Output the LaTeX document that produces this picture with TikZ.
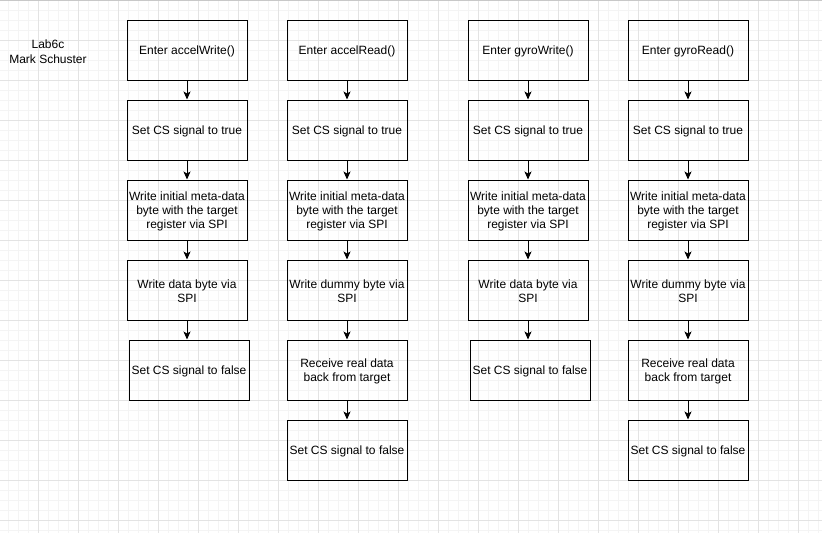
\documentclass[tikz,border=0pt]{standalone}
\usepackage{fontspec}
\setmainfont{Liberation Sans}
\usetikzlibrary{arrows.meta}
\definecolor{gridmajor}{HTML}{E3E3E3}
\definecolor{gridminor}{HTML}{F4F4F4}
\definecolor{bordure}{HTML}{C8C8C8}
\newcommand{\cale}{\rule{0pt}{12pt}}
\begin{document}
\begin{tikzpicture}[x=1pt,y=-1pt,
    etape/.style={draw,line width=1pt,minimum width=120pt,minimum height=60pt,inner sep=1pt,align=center,font=\fontsize{12}{14}\selectfont},
    fleche/.style={-{Stealth[length=8pt,width=7pt,inset=2pt]},line width=1pt}]
    \useasboundingbox (0,0) rectangle (822,533);
    \fill[white] (0,0) rectangle (822,533);
    \foreach \x in {8,18,...,818} \draw[gridminor] (\x,0) -- (\x,533); %petite grille
    \foreach \y in {10,20,...,530} \draw[gridminor] (0,\y) -- (822,\y);
    \foreach \x in {38,78,...,798} \draw[gridmajor] (\x,0) -- (\x,533); %grande grille
    \foreach \y in {40,80,...,520} \draw[gridmajor] (0,\y) -- (822,\y);
    \draw[bordure,line width=2pt] (0,0) -- (822,0);
    \node[align=center,font=\fontsize{12}{15}\selectfont] (titre) at (48,52) {Lab6c\\Mark Schuster};
    % accelWrite
    \node[etape] (aw1) at (187,50) {\cale Enter accelWrite()};
    \node[etape] (aw2) at (187,130) {\cale Set CS signal to true};
    \node[etape] (aw3) at (187,210) {\cale Write initial meta-data\\byte with the target\\register via SPI};
    \node[etape] (aw4) at (187,290) {\cale Write data byte via\\SPI};
    \node[etape] (aw5) at (189,370) {\cale Set CS signal to false};
    % accelRead
    \node[etape] (ar1) at (347,50) {\cale Enter accelRead()};
    \node[etape] (ar2) at (347,130) {\cale Set CS signal to true};
    \node[etape] (ar3) at (347,210) {\cale Write initial meta-data\\byte with the target\\register via SPI};
    \node[etape] (ar4) at (347,290) {\cale Write dummy byte via\\SPI};
    \node[etape] (ar5) at (347,370) {\cale Receive real data\\back from target};
    \node[etape] (ar6) at (347,450) {\cale Set CS signal to false};
    % gyroWrite
    \node[etape] (gw1) at (528,50) {\cale Enter gyroWrite()};
    \node[etape] (gw2) at (528,130) {\cale Set CS signal to true};
    \node[etape] (gw3) at (528,210) {\cale Write initial meta-data\\byte with the target\\register via SPI};
    \node[etape] (gw4) at (528,290) {\cale Write data byte via\\SPI};
    \node[etape] (gw5) at (530,370) {\cale Set CS signal to false};
    % gyroRead
    \node[etape] (gr1) at (688,50) {\cale Enter gyroRead()};
    \node[etape] (gr2) at (688,130) {\cale Set CS signal to true};
    \node[etape] (gr3) at (688,210) {\cale Write initial meta-data\\byte with the target\\register via SPI};
    \node[etape] (gr4) at (688,290) {\cale Write dummy byte via\\SPI};
    \node[etape] (gr5) at (688,370) {\cale Receive real data\\back from target};
    \node[etape] (gr6) at (688,450) {\cale Set CS signal to false};
    % fleches
    \draw[fleche] (aw1) -- (aw2);
    \draw[fleche] (aw2) -- (aw3);
    \draw[fleche] (aw3) -- (aw4);
    \draw[fleche] (aw4.south) -- (aw4.south |- aw5.north);
    \draw[fleche] (ar1) -- (ar2);
    \draw[fleche] (ar2) -- (ar3);
    \draw[fleche] (ar3) -- (ar4);
    \draw[fleche] (ar4) -- (ar5);
    \draw[fleche] (ar5) -- (ar6);
    \draw[fleche] (gw1) -- (gw2);
    \draw[fleche] (gw2) -- (gw3);
    \draw[fleche] (gw3) -- (gw4);
    \draw[fleche] (gw4.south) -- (gw4.south |- gw5.north);
    \draw[fleche] (gr1) -- (gr2);
    \draw[fleche] (gr2) -- (gr3);
    \draw[fleche] (gr3) -- (gr4);
    \draw[fleche] (gr4) -- (gr5);
    \draw[fleche] (gr5) -- (gr6);
\end{tikzpicture}
\end{document}
